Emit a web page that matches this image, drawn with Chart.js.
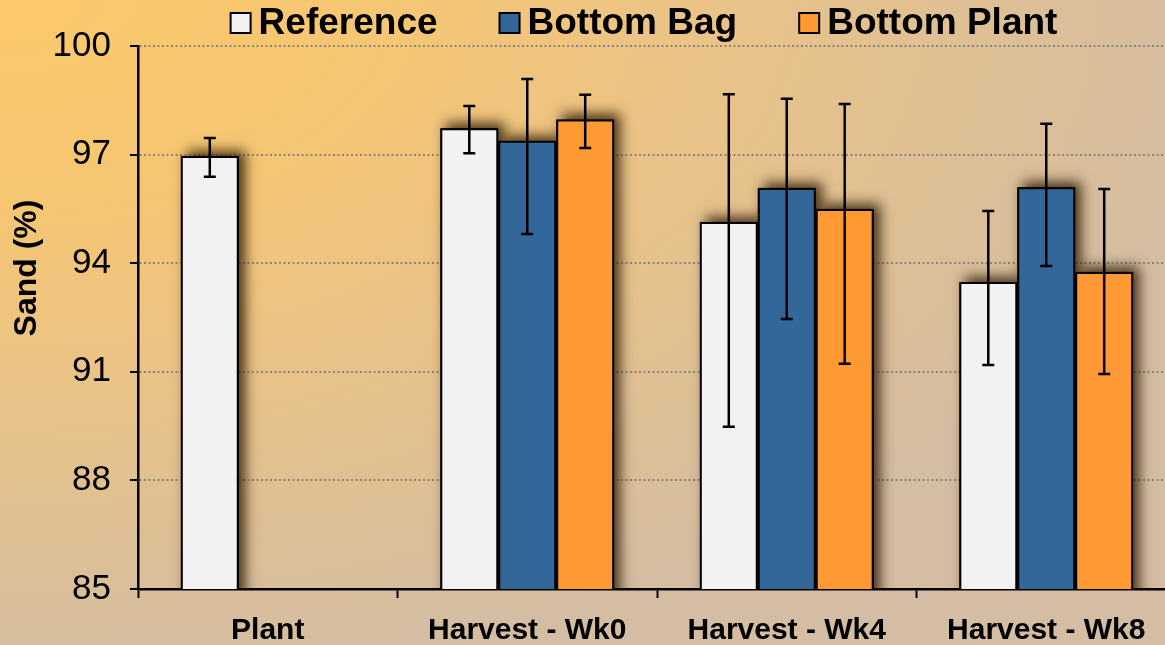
<!DOCTYPE html>
<html>
<head>
<meta charset="utf-8">
<script src="https://cdn.jsdelivr.net/npm/chart.js@4.4.1/dist/chart.umd.min.js"></script>
<style>
  html, body { margin: 0; padding: 0; width: 1165px; height: 645px; overflow: hidden; }
  body {
    background: radial-gradient(ellipse 1250px 680px at 0px 0px, #fcc96a 0%, #f5c673 30%, #ebc386 55%, #e0c092 75%, #d4bda2 100%);
  }
  #wrap { position: absolute; left: 0; top: 0; width: 1180px; height: 645px; }
</style>
</head>
<body>
<div id="wrap"><canvas id="chart" width="1180" height="645"></canvas></div>
<script>
const categories = ['Plant', 'Harvest - Wk0', 'Harvest - Wk4', 'Harvest - Wk8'];

const seriesNames = ['Reference', 'Bottom Bag', 'Bottom Plant'];

const referenceVals = [96.96, 97.73, 95.14, 93.48];
const referenceUp = [0.50, 0.61, 3.53, 1.96];
const referenceDown = [0.57, 0.69, 5.66, 2.29];

const bagVals = [null, 97.38, 96.08, 96.10];
const bagUp = [null, 1.71, 2.46, 1.75];
const bagDown = [null, 2.57, 3.62, 2.18];

const plantVals = [null, 97.97, 95.50, 93.76];
const plantUp = [null, 0.68, 2.90, 2.29];
const plantDown = [null, 0.79, 4.28, 2.82];

const yTicks = [85, 88, 91, 94, 97, 100];

const colors = ['#f2f2f2', '#336699', '#ff9933'];

// soft shadow behind each bar (drawn before the bars)
const barShadow = {
  id: 'barShadow',
  beforeDatasetsDraw(chart) {
    const ctx = chart.ctx;
    const a = chart.chartArea;
    ctx.save();
    ctx.beginPath();
    ctx.rect(a.left, 0, a.right - a.left + 20, a.bottom);
    ctx.clip();
    ctx.shadowColor = 'rgba(45,25,0,0.85)';
    ctx.shadowBlur = 12;
    ctx.shadowOffsetX = 6;
    ctx.shadowOffsetY = -5;
    ctx.fillStyle = '#000';
    chart.data.datasets.forEach((ds, i) => {
      chart.getDatasetMeta(i).data.forEach((el, j) => {
        if (ds.data[j] == null) return;
        ctx.fillRect(el.x - el.width / 2, el.y, el.width, el.base - el.y);
      });
    });
    ctx.restore();
  }
};

const errorBars = {
  id: 'errorBars',
  afterDatasetsDraw(chart) {
    const ctx = chart.ctx;
    const y = chart.scales.y;
    ctx.save();
    ctx.strokeStyle = '#000';
    ctx.lineWidth = 2.5;
    chart.data.datasets.forEach((ds, i) => {
      chart.getDatasetMeta(i).data.forEach((el, j) => {
        const v = ds.data[j];
        if (v == null) return;
        const top = y.getPixelForValue(v + ds.errUp[j]);
        const bot = y.getPixelForValue(v - ds.errDown[j]);
        const x = el.x;
        ctx.beginPath();
        ctx.moveTo(x, top); ctx.lineTo(x, bot);
        ctx.moveTo(x - 6, top); ctx.lineTo(x + 6, top);
        ctx.moveTo(x - 6, bot); ctx.lineTo(x + 6, bot);
        ctx.stroke();
      });
    });
    ctx.restore();
  }
};

// legend + rotated y title
const topLegend = {
  id: 'topLegend',
  afterDraw(chart) {
    const ctx = chart.ctx;
    ctx.save();
    ctx.font = 'bold 37px "Liberation Sans", Arial, sans-serif';
    ctx.textBaseline = 'middle';
    const box = 20, gapText = 8, gapItem = 62;
    const widths = chart.data.datasets.map(ds => box + gapText + ctx.measureText(ds.label).width);
    const total = widths.reduce((s, w) => s + w, 0) + gapItem * (widths.length - 1);
    let x = 644 - total / 2;
    const cy = 23;
    chart.data.datasets.forEach((ds, i) => {
      ctx.fillStyle = ds.backgroundColor;
      ctx.fillRect(x, cy - box / 2, box, box);
      ctx.lineWidth = 2;
      ctx.strokeStyle = '#000';
      ctx.strokeRect(x, cy - box / 2, box, box);
      ctx.fillStyle = '#000';
      ctx.fillText(ds.label, x + box + gapText, cy + 1);
      x += widths[i] + gapItem;
    });

    ctx.translate(27, 268);
    ctx.rotate(-Math.PI / 2);
    ctx.textAlign = 'center';
    ctx.font = 'bold 32px "Liberation Sans", Arial, sans-serif';
    ctx.fillText(chart.options.scales.y.title.text, 0, 0);
    ctx.restore();
  }
};

const makeSet = (i, vals, up, down) => ({
  label: seriesNames[i],
  data: vals,
  errUp: up,
  errDown: down,
  backgroundColor: colors[i],
  borderColor: '#000',
  borderWidth: 2,
  borderSkipped: false,
  categoryPercentage: 0.67,
  barPercentage: 1.0
});

new Chart(document.getElementById('chart'), {
  type: 'bar',
  data: {
    labels: categories,
    datasets: [
      makeSet(0, referenceVals, referenceUp, referenceDown),
      makeSet(1, bagVals, bagUp, bagDown),
      makeSet(2, plantVals, plantUp, plantDown)
    ]
  },
  options: {
    responsive: false,
    animation: false,
    layout: { padding: { top: 46, right: 4, left: 0, bottom: 0 } },
    plugins: {
      legend: { display: false },
      tooltip: { enabled: false }
    },
    scales: {
      x: {
        afterFit: s => { s.height = 56; },
        grid: {
          offset: true,
          drawOnChartArea: false,
          tickLength: 9,
          tickColor: '#000',
          tickWidth: 2
        },
        border: { color: '#000', width: 2.5 },
        ticks: {
          color: '#000',
          padding: 15,
          font: { family: '"Liberation Sans", Arial, sans-serif', size: 30, weight: 'bold' }
        }
      },
      y: {
        min: 85,
        max: 100,
        afterFit: s => { s.width = 138; },
        afterBuildTicks: s => { s.ticks = yTicks.map(v => ({ value: v })); },
        title: { display: false, text: 'Sand (%)' },
        grid: {
          color: 'rgba(125,125,125,0.9)',
          lineWidth: 2,
          tickLength: 8,
          tickColor: '#000',
          tickWidth: 2
        },
        border: { color: '#000', width: 2.5, dash: [2, 2.5] },
        ticks: {
          color: '#000',
          padding: 19,
          font: { family: '"Liberation Sans", Arial, sans-serif', size: 35 }
        }
      }
    }
  },
  plugins: [barShadow, errorBars, topLegend]
});
</script>
</body>
</html>
